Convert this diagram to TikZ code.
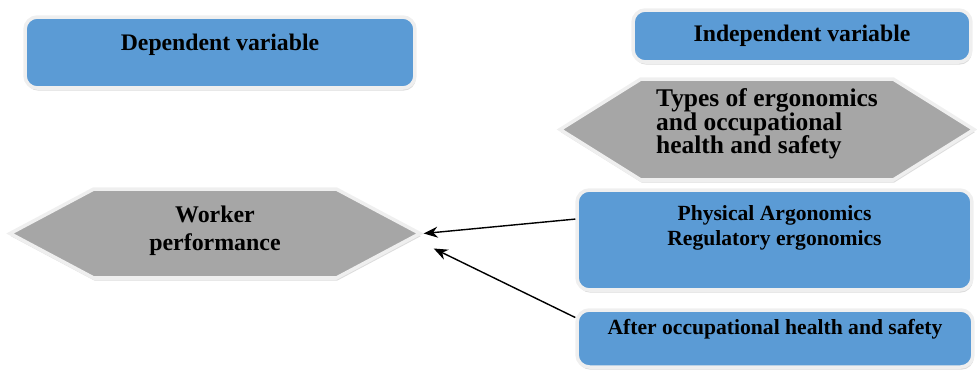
\documentclass[tikz,border=0pt]{standalone}
\usepackage{fontspec}
\setmainfont{Liberation Serif}
\usetikzlibrary{shapes.symbols, arrows.meta, positioning, shadows}
\definecolor{boxblue}{HTML}{5B9BD5}
\definecolor{hexgray}{HTML}{A6A6A6}
\definecolor{rimwhite}{HTML}{EFEFEF}

\begin{document}
\begin{tikzpicture}[x=0.02cm, y=-0.02cm,
    varbox/.style={rectangle, draw=rimwhite, line width=2pt, rounded corners=7pt, fill=boxblue, drop shadow={shadow xshift=0.5pt, shadow yshift=-1.5pt, fill=gray!55}},
    hexbox/.style={signal, signal to=west and east, draw=rimwhite, line width=2pt, fill=hexgray, align=center, font=\bfseries\fontsize{14.5}{13.5}\selectfont, drop shadow={shadow xshift=0.5pt, shadow yshift=-1.5pt, fill=gray!55}},
    boxtext/.style={anchor=north, inner sep=0pt, align=center, font=\bfseries\fontsize{12.3}{14}\selectfont},
    headtext/.style={boxtext, font=\bfseries\fontsize{13.5}{15}\selectfont},
    arrow/.style={-{Stealth[length=2.8mm, width=2.2mm]}, thick}
]
    \useasboundingbox (0,0) rectangle (977,370);

    % Variable headings
    \node[varbox, minimum width=7.8cm, minimum height=1.42cm, label={[headtext, name=deptext, yshift=-0.36cm]north:Dependent variable}] (dep) at (220,52.5) {};
    \node[varbox, minimum width=6.76cm, minimum height=1.04cm, label={[headtext, name=indtext, yshift=-0.33cm]north:Independent variable}] (ind) at (802,36) {};

    % Hexagons
    \node[hexbox, align=left, minimum width=8.28cm, minimum height=2.02cm, signal pointer angle=64] (types) at (767,129.5) {Types of ergonomics\\and occupational\\health and safety\\[-4pt]};
    \node[hexbox, minimum width=8.2cm, minimum height=1.78cm, signal pointer angle=56, font=\bfseries\fontsize{13.6}{16}\selectfont] (worker) at (215,233.5) {Worker\\performance\\[-10pt]};

    % Independent variable boxes
    \node[varbox, minimum width=7.9cm, minimum height=2cm, label={[boxtext, name=phystext, yshift=-0.34cm]north:Physical Argonomics\\Regulatory ergonomics}] (phys) at (774.5,240) {};
    \node[varbox, minimum width=7.92cm, minimum height=1.14cm, label={[boxtext, name=aftertext, yshift=-0.22cm]north:After occupational health and safety}] (after) at (775,338.5) {};

    % Arrows
    \draw[arrow] (phys.174) -- (worker.east);
    \draw[arrow] (after.174) -- ([xshift=0.2cm, yshift=-0.3cm]worker.east);
\end{tikzpicture}
\end{document}
